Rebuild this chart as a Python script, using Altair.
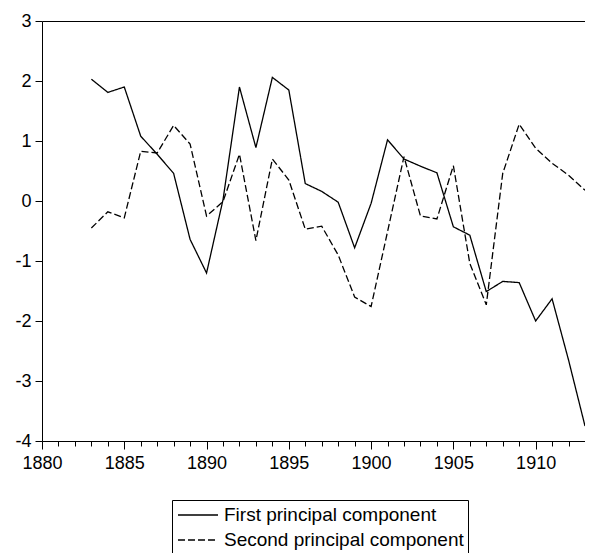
import altair as alt
import pandas as pd

years = list(range(1883, 1914))
pc1 = [2.03, 1.81, 1.90, 1.08, 0.78, 0.46, -0.64, -1.20, 0.02, 1.90,
       0.89, 2.06, 1.85, 0.29, 0.16, -0.02, -0.78, -0.04, 1.02, 0.70,
       0.58, 0.47, -0.43, -0.57, -1.51, -1.34, -1.36, -2.00, -1.63, -2.65,
       -3.75]
pc2 = [-0.45, -0.18, -0.28, 0.83, 0.80, 1.26, 0.95, -0.25, -0.01, 0.78,
       -0.66, 0.70, 0.35, -0.47, -0.42, -0.90, -1.60, -1.76, -0.51, 0.74,
       -0.25, -0.30, 0.59, -1.04, -1.73, 0.46, 1.28, 0.88, 0.63, 0.43,
       0.18]
series_names = ["First principal component", "Second principal component"]
x_ticks = list(range(1880, 1914))
y_ticks = [-4, -3, -2, -1, 0, 1, 2, 3]

rows = []
for name, vals in zip(series_names, [pc1, pc2]):
    for yr, v in zip(years, vals):
        rows.append({"year": yr, "value": v, "series": name})
df = pd.DataFrame(rows)

FONT = "Liberation Sans"
xscale = alt.Scale(domain=[1880, 1913.0], nice=False, zero=False)
yscale = alt.Scale(domain=[-4, 3], nice=False, zero=False)

y_axis = alt.Axis(values=y_ticks, title=None, grid=False, tickSize=7,
                  labelExpr="'' + datum.value",
                  labelPadding=4, labelFontSize=18, labelFont=FONT,
                  labelColor="black", domainColor="black", tickColor="black",
                  labelFlush=False)

lines = alt.Chart(df).mark_line(color="black", strokeWidth=1.3).encode(
    x=alt.X("year:Q", scale=xscale,
            axis=alt.Axis(values=x_ticks, title=None, grid=False,
                          labelExpr="datum.value % 5 === 0 ? '' + datum.value : ''",
                          tickSize={"condition": {"test": "datum.value % 5 === 0", "value": 8}, "value": 5},
                          labelPadding=5, labelFontSize=18, labelFont=FONT,
                          labelColor="black", domainColor="black", tickColor="black",
                          labelFlush=False, labelOverlap=False)),
    y=alt.Y("value:Q", scale=yscale, axis=y_axis),
    strokeDash=alt.StrokeDash("series:N",
                              scale=alt.Scale(domain=series_names, range=[[1, 0], [7, 3]]),
                              legend=alt.Legend(title=None, orient="none",
                                                legendX=130, legendY=479,
                                                strokeColor="black", fillColor="white",
                                                padding=4, cornerRadius=0,
                                                symbolType="M-2,0H2", symbolSize=400,
                                                symbolStrokeColor="black", symbolFillColor="transparent",
                                                symbolStrokeWidth=1.3, symbolOffset=11,
                                                labelOffset=15, labelFontSize=19, labelFont=FONT,
                                                labelLimit=500,
                                                labelColor="black", rowPadding=4)),
)

top_frame = alt.Chart(df).mark_line(opacity=0).encode(
    x=alt.X("year:Q", scale=xscale,
            axis=alt.Axis(orient="top", title=None, grid=False, labels=False,
                          ticks=False, domain=True, domainColor="black")),
    y=alt.Y("value:Q", scale=yscale, axis=y_axis),
    detail="series:N",
)

chart = alt.layer(lines, top_frame).resolve_axis(x="independent").properties(
    width=543, height=420,
    autosize=alt.AutoSizeParams(type="none"),
    padding={"left": 34, "top": 13, "right": 0, "bottom": 112},
).configure_view(stroke=None)

chart.save("out.html", embed_options={"renderer": "svg", "actions": False})
